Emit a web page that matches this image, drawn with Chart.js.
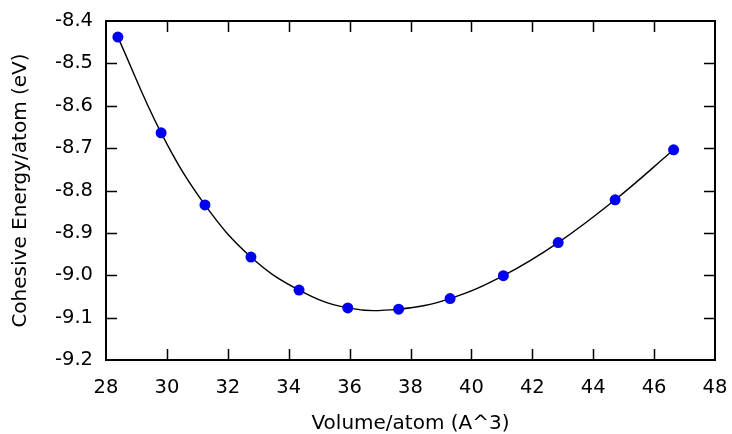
<!DOCTYPE html>
<html>
<head>
<meta charset="utf-8">
<script src="https://cdn.jsdelivr.net/npm/chart.js@4"></script>
<style>
  html, body { margin: 0; padding: 0; background: #fff; }
  #wrap { width: 732px; height: 434px; }
</style>
</head>
<body>
<div id="wrap"><canvas id="chart"></canvas></div>
<script>
// ========== DATA ==========
const volumes = [28.39, 29.81, 31.25, 32.76, 34.34, 35.94, 37.61, 39.30, 41.05, 42.85, 44.72, 46.64];
const energies = [-8.438, -8.664, -8.834, -8.957, -9.035, -9.077, -9.080, -9.055, -9.001, -8.923, -8.822, -8.704];
const xTicks = [28, 30, 32, 34, 36, 38, 40, 42, 44, 46, 48];
const yTicks = [-9.2, -9.1, -9.0, -8.9, -8.8, -8.7, -8.6, -8.5, -8.4];

const FONT = 'DejaVu Sans';

// frame + inward ticks on all four sides (gnuplot style)
const framePlugin = {
    id: 'frame',
    afterDraw(chart) {
        const { ctx, chartArea: a, scales } = chart;
        const tl = 11;
        ctx.save();
        ctx.strokeStyle = '#000';
        ctx.lineWidth = 2;
        ctx.strokeRect(Math.round(a.left), Math.round(a.top), Math.round(a.right - a.left), Math.round(a.bottom - a.top));
        ctx.lineWidth = 1.5;
        ctx.beginPath();
        xTicks.slice(1, -1).forEach(v => {
            const px = Math.round(scales.x.getPixelForValue(v)) + 0.5;
            ctx.moveTo(px, a.bottom); ctx.lineTo(px, a.bottom - tl);
            ctx.moveTo(px, a.top); ctx.lineTo(px, a.top + tl);
        });
        yTicks.slice(1, -1).forEach(v => {
            const py = Math.round(scales.y.getPixelForValue(v)) + 0.5;
            ctx.moveTo(a.left, py); ctx.lineTo(a.left + tl, py);
            ctx.moveTo(a.right, py); ctx.lineTo(a.right - tl, py);
        });
        ctx.stroke();
        ctx.restore();
    }
};

new Chart(document.getElementById('chart'), {
    type: 'scatter',
    data: {
        datasets: [{
            data: volumes.map((v, i) => ({ x: v, y: energies[i] })),
            showLine: true,
            borderColor: '#000',
            borderWidth: 1.4,
            tension: 0.4,
            pointRadius: 5.5,
            pointBackgroundColor: '#0000f0',
            pointBorderColor: '#0000f0',
            pointBorderWidth: 0
        }]
    },
    options: {
        responsive: true,
        maintainAspectRatio: false,
        animation: false,
        layout: { padding: { top: 21, right: 17, left: 0, bottom: 0 } },
        plugins: { legend: { display: false }, tooltip: { enabled: false } },
        scales: {
            x: {
                type: 'linear', min: 28, max: 48,
                afterBuildTicks: s => { s.ticks = xTicks.map(v => ({ value: v })); },
                afterFit: s => { s.height = 74; s.paddingLeft = 0; s.paddingRight = 0; },
                ticks: { color: '#000', font: { family: FONT, size: 19.5 }, padding: 16, maxRotation: 0 },
                grid: { display: false, drawTicks: false },
                border: { display: false },
                title: { display: true, text: 'Volume/atom (A^3)', color: '#000', font: { family: FONT, size: 20, lineHeight: 1 }, padding: { top: 0, bottom: 0 } }
            },
            y: {
                type: 'linear', min: -9.2, max: -8.4,
                afterBuildTicks: s => { s.ticks = yTicks.map(v => ({ value: v })); },
                afterFit: s => { s.width = 106; s.paddingTop = 0; s.paddingBottom = 0; },
                ticks: { color: '#000', font: { family: FONT, size: 19.5 }, padding: 13, callback: v => v.toFixed(1) },
                grid: { display: false, drawTicks: false },
                border: { display: false },
                title: { display: true, text: 'Cohesive Energy/atom (eV)', color: '#000', font: { family: FONT, size: 20 }, padding: { top: 9, bottom: 0 } }
            }
        }
    },
    plugins: [framePlugin]
});
</script>
</body>
</html>
